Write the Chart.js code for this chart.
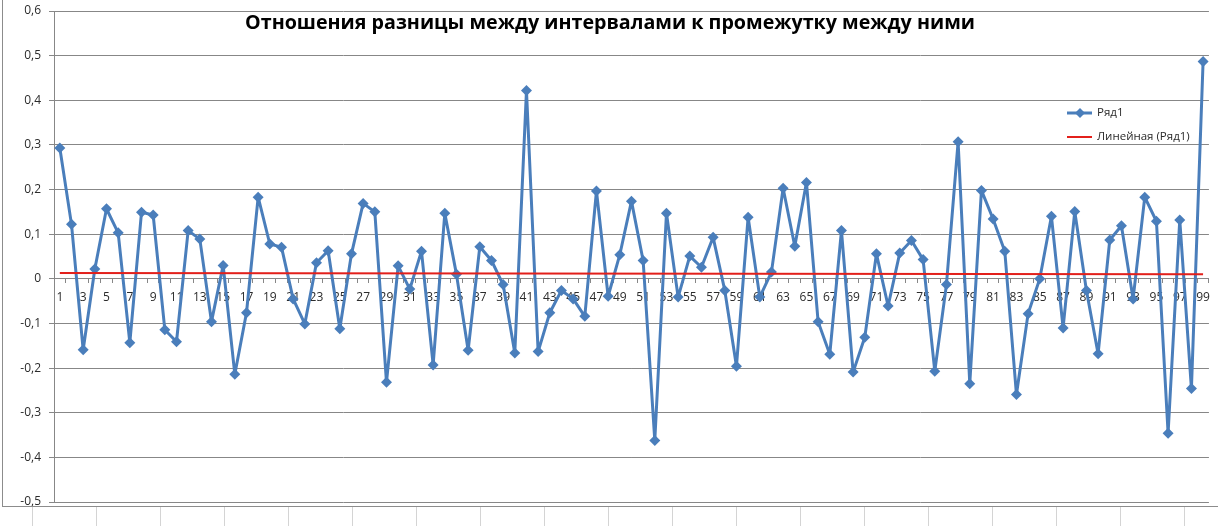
<!DOCTYPE html>
<html>
<head>
<meta charset="utf-8">
<script src="https://cdn.jsdelivr.net/npm/chart.js@4/dist/chart.umd.min.js"></script>
<style>
  body { margin: 0; background: #fff; overflow: hidden; }
  #wrap { position: absolute; left: 0; top: 0; width: 1218px; height: 507px; overflow: hidden; }
  #chart { position: absolute; left: 0; top: 0; }
  #frameL { position: absolute; left: 2px; top: 0; width: 1px; height: 507px; background: #8c8c8c; }
  #frameB { position: absolute; left: 2px; top: 506px; width: 1216px; height: 1px; background: #8c8c8c; }
  #cells { position: absolute; left: 0; top: 507px; width: 1218px; height: 19px; background-color: #fff;
    background-image: repeating-linear-gradient(90deg, transparent 0, transparent 32px, #d4d4d4 32px, #d4d4d4 33px, transparent 33px, transparent 64px); }
</style>
</head>
<body>
<div id="wrap"><canvas id="chart" width="1218" height="560"></canvas></div>
<div id="cells"></div>
<div id="frameL"></div>
<div id="frameB"></div>
<script>
// Подписи категорий 1..99
const categories = Array.from({ length: 99 }, (_, i) => String(i + 1));

// Ряд1
const series1 = [
  0.293, 0.122, -0.159, 0.022, 0.157, 0.103, -0.143, 0.149, 0.143, -0.114,
  -0.141, 0.108, 0.089, -0.096, 0.030, -0.214, -0.076, 0.183, 0.078, 0.071,
  -0.045, -0.101, 0.036, 0.063, -0.112, 0.056, 0.169, 0.150, -0.232, 0.029,
  -0.023, 0.062, -0.193, 0.147, 0.010, -0.160, 0.072, 0.041, -0.013, -0.166,
  0.422, -0.163, -0.076, -0.026, -0.045, -0.084, 0.197, -0.039, 0.054, 0.174,
  0.041, -0.362, 0.147, -0.041, 0.051, 0.026, 0.093, -0.026, -0.196, 0.138,
  -0.041, 0.015, 0.203, 0.073, 0.216, -0.096, -0.169, 0.108, -0.209, -0.131,
  0.056, -0.061, 0.058, 0.086, 0.043, -0.207, -0.013, 0.307, -0.235, 0.198,
  0.134, 0.062, -0.259, -0.078, 0.000, 0.140, -0.110, 0.151, -0.026, -0.168,
  0.087, 0.119, -0.045, 0.183, 0.129, -0.346, 0.132, -0.246, 0.487
];

// Линейная (Ряд1): концы линии тренда
const trendStart = 0.013;
const trendEnd = 0.010;

const yTicks = [-0.5, -0.4, -0.3, -0.2, -0.1, 0, 0.1, 0.2, 0.3, 0.4, 0.5, 0.6];

const titleText = 'Отношения разницы между интервалами к промежутку между ними';
const legendLabels = ['Ряд1', 'Линейная (Ряд1)'];

// область построения в координатах страницы
const plotBox = { left: 54, top: 11, right: 1209, bottom: 502 };

const blue = '#4a7ebb';
const red = '#e3201b';
const gridColor = '#878787';
const textColor = '#2b2b2b';
const fontFamily = '"Open Sans", "DejaVu Sans", sans-serif';

const canvas = document.getElementById('chart');

// заголовок и легенда рисуются в координатах страницы
const overlay = {
  id: 'overlay',
  afterDraw(chart) {
    const ctx = chart.ctx;
    const dx = -(parseFloat(canvas.style.left) || 0);
    const dy = -(parseFloat(canvas.style.top) || 0);
    ctx.save();
    ctx.translate(dx, dy);
    let size = 21;
    ctx.font = 'bold ' + size + 'px ' + fontFamily;
    const w = ctx.measureText(titleText).width;
    size = size * 730 / w;
    ctx.font = 'bold ' + size + 'px ' + fontFamily;
    ctx.fillStyle = '#000';
    ctx.textAlign = 'center';
    ctx.textBaseline = 'middle';
    ctx.fillText(titleText, 610, 23);

    ctx.font = '11.5px ' + fontFamily;
    ctx.textAlign = 'left';
    ctx.lineWidth = 3;
    ctx.strokeStyle = blue;
    ctx.beginPath(); ctx.moveTo(1067, 113); ctx.lineTo(1092, 113); ctx.stroke();
    ctx.fillStyle = blue;
    ctx.beginPath();
    ctx.moveTo(1080, 108); ctx.lineTo(1085, 113); ctx.lineTo(1080, 118); ctx.lineTo(1075, 113);
    ctx.closePath(); ctx.fill();
    ctx.fillStyle = textColor;
    ctx.fillText(legendLabels[0], 1097, 113);
    ctx.lineWidth = 2;
    ctx.strokeStyle = red;
    ctx.beginPath(); ctx.moveTo(1067, 137); ctx.lineTo(1092, 137); ctx.stroke();
    ctx.fillText(legendLabels[1], 1097, 137);
    ctx.restore();
  }
};

const chart = new Chart(canvas, {
  type: 'line',
  data: {
    labels: categories,
    datasets: [
      {
        label: legendLabels[0],
        data: series1,
        borderColor: blue,
        backgroundColor: blue,
        borderWidth: 3,
        borderJoinStyle: 'round',
        borderCapStyle: 'round',
        pointStyle: 'rectRot',
        pointRadius: 5.5,
        pointBorderWidth: 0,
        tension: 0,
        order: 2
      },
      {
        label: legendLabels[1],
        data: [{ x: categories[0], y: trendStart }, { x: categories[98], y: trendEnd }],
        borderColor: red,
        borderWidth: 2,
        pointRadius: 0,
        order: 1
      }
    ]
  },
  options: {
    responsive: false,
    animation: false,
    devicePixelRatio: 1,
    layout: { padding: { top: 20, bottom: 50, left: 0, right: 9 } },
    plugins: {
      legend: { display: false },
      title: { display: false },
      tooltip: { enabled: false }
    },
    scales: {
      x: {
        type: 'category',
        position: { y: 0 },
        offset: true,
        grid: { offset: true, drawOnChartArea: false, drawTicks: true, tickLength: 4, color: gridColor },
        border: { color: gridColor },
        ticks: {
          autoSkip: false,
          maxRotation: 0,
          padding: 8,
          color: textColor,
          font: { family: fontFamily, size: 12 },
          callback: (v, i) => (i % 2 === 0 ? categories[i] : '')
        }
      },
      y: {
        min: -0.5,
        max: 0.6,
        afterBuildTicks: (scale) => { scale.ticks = yTicks.map(v => ({ value: v })); },
        afterFit: (scale) => { scale.width = 54; },
        grid: { color: gridColor, tickLength: 5 },
        border: { color: gridColor },
        ticks: {
          padding: 8,
          color: textColor,
          font: { family: fontFamily, size: 12 },
          callback: (v) => (Math.round(v * 10) === 0 ? '0' : (Math.round(v * 10) / 10).toFixed(1).replace('.', ','))
        }
      }
    }
  },
  plugins: [overlay]
});

// подгонка размеров области построения под оригинал
for (let k = 0; k < 3; k++) {
  const ca = chart.chartArea;
  const pad = chart.options.layout.padding;
  pad.bottom += (ca.bottom - ca.top) - (plotBox.bottom - plotBox.top);
  pad.right += (ca.right - ca.left) - (plotBox.right - plotBox.left);
  chart.update('none');
}
canvas.style.left = (plotBox.left - chart.chartArea.left) + 'px';
canvas.style.top = (plotBox.top - chart.chartArea.top) + 'px';
chart.update('none');
</script>
</body>
</html>
